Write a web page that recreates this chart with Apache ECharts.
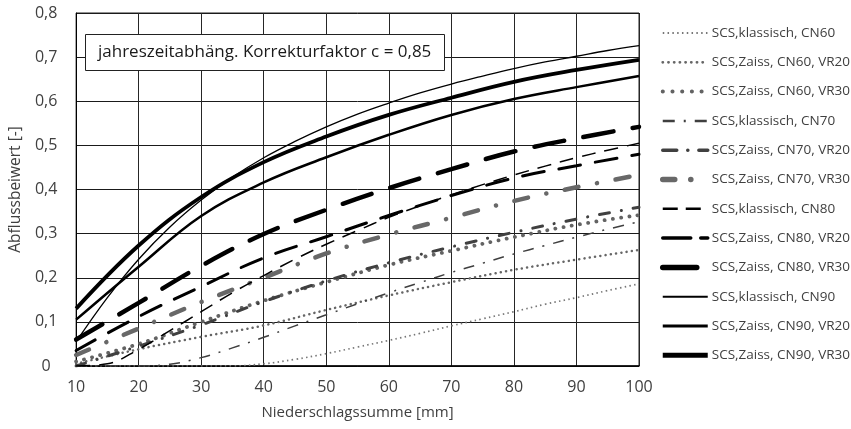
<!DOCTYPE html>
<html>
<head>
<meta charset="utf-8">
<script src="https://cdn.jsdelivr.net/npm/echarts@6/dist/echarts.min.js"></script>
<style>
  html, body { margin: 0; padding: 0; background: #fff; }
  #chart { width: 851px; height: 429px; }
</style>
</head>
<body>
<div id="chart"></div>
<script>
// Niederschlagssumme [mm] – Stützstellen
const xKlassisch = [10, 15, 20, 25, 30, 35, 40, 45, 50, 55, 60, 65, 70, 75, 80, 85, 90, 95, 100];
const xZaiss = [10, 20, 30, 40, 50, 60, 70, 80, 90, 100];

// Abflussbeiwerte, SCS klassisch
const cn60Klassisch = [0, 0, 0, 0, 0, 0.0002, 0.005, 0.015, 0.028, 0.043, 0.058, 0.074, 0.091, 0.107, 0.123, 0.140, 0.155, 0.171, 0.186];
const cn70Klassisch = [0, 0, 0, 0.004, 0.019, 0.041, 0.065, 0.091, 0.116, 0.141, 0.166, 0.189, 0.212, 0.233, 0.254, 0.273, 0.292, 0.310, 0.327];
const cn80Klassisch = [0, 0.005, 0.038, 0.080, 0.123, 0.166, 0.205, 0.242, 0.276, 0.307, 0.337, 0.363, 0.388, 0.411, 0.433, 0.453, 0.472, 0.489, 0.505];
const cn90Klassisch = [0.055, 0.155, 0.242, 0.315, 0.376, 0.428, 0.472, 0.509, 0.542, 0.571, 0.596, 0.619, 0.639, 0.657, 0.674, 0.689, 0.702, 0.715, 0.726];

// Abflussbeiwerte, SCS nach Zaiss
const cn60Vr20 = [0.005, 0.038, 0.066, 0.092, 0.127, 0.160, 0.190, 0.218, 0.241, 0.263];
const cn60Vr30 = [0.010, 0.050, 0.100, 0.148, 0.190, 0.229, 0.261, 0.292, 0.320, 0.342];
const cn70Vr20 = [0.000, 0.045, 0.093, 0.146, 0.193, 0.234, 0.270, 0.303, 0.333, 0.360];
const cn70Vr30 = [0.025, 0.085, 0.145, 0.200, 0.255, 0.298, 0.336, 0.374, 0.405, 0.433];
const cn80Vr20 = [0.035, 0.112, 0.180, 0.245, 0.293, 0.341, 0.386, 0.426, 0.454, 0.480];
const cn80Vr30 = [0.060, 0.143, 0.227, 0.299, 0.354, 0.403, 0.446, 0.486, 0.516, 0.542];
const cn90Vr20 = [0.105, 0.225, 0.340, 0.416, 0.473, 0.524, 0.569, 0.605, 0.632, 0.657];
const cn90Vr30 = [0.130, 0.273, 0.383, 0.462, 0.520, 0.569, 0.608, 0.644, 0.671, 0.694];

const seriesNames = [
  'SCS,klassisch, CN60', 'SCS,Zaiss, CN60, VR20', 'SCS,Zaiss, CN60, VR30',
  'SCS,klassisch, CN70', 'SCS,Zaiss, CN70, VR20', 'SCS,Zaiss, CN70, VR30',
  'SCS,klassisch, CN80', 'SCS,Zaiss, CN80, VR20', 'SCS,Zaiss, CN80, VR30',
  'SCS,klassisch, CN90', 'SCS,Zaiss, CN90, VR20', 'SCS,Zaiss, CN90, VR30'
];

const annotation = 'jahreszeitabhäng. Korrekturfaktor c = 0,85';

function pairs(xs, ys) { return xs.map((x, i) => [x, ys[i]]); }

// Linienstile je Kurve (Diagramm und Legende)
const styles = [
  { x: xKlassisch, y: cn60Klassisch, color: '#777777', width: 1.7, type: [1.5, 3.3], cap: 'butt',
    legend: { width: 1.8, type: [1.5, 3.3], cap: 'butt' } },
  { x: xZaiss, y: cn60Vr20, color: '#666666', width: 2.5, type: [0.1, 5.2], cap: 'round',
    legend: { width: 2.8, type: [0.1, 5.6], cap: 'round' } },
  { x: xZaiss, y: cn60Vr30, color: '#636363', width: 3.8, type: [0.1, 8.2], cap: 'round',
    legend: { width: 4, type: [0.1, 9.6], cap: 'round' } },
  { x: xKlassisch, y: cn70Klassisch, color: '#3f3f3f', width: 1.5, type: [11, 9, 2, 9], cap: 'butt',
    legend: { width: 2.5, type: [12, 9, 2, 9], cap: 'butt' } },
  { x: xZaiss, y: cn70Vr20, color: '#404040', width: 3, type: [10, 12, 0.1, 12], cap: 'round',
    legend: { width: 3.5, type: [14, 11, 0.1, 11], cap: 'round' } },
  { x: xZaiss, y: cn70Vr30, color: '#686868', width: 4.5, type: [14, 18.8, 0.1, 18.8], cap: 'round',
    legend: { width: 5.5, type: [12, 16, 0.1, 30], cap: 'round' } },
  { x: xKlassisch, y: cn80Klassisch, color: '#000000', width: 1.5, type: [14, 9], cap: 'butt',
    legend: { width: 2.4, type: [15, 8], cap: 'butt' } },
  { x: xZaiss, y: cn80Vr20, color: '#000000', width: 3, type: [22, 15], cap: 'round',
    legend: { width: 3.5, type: [28, 10], cap: 'round' } },
  { x: xZaiss, y: cn80Vr30, color: '#000000', width: 4.5, type: [30.5, 19.5], cap: 'round',
    legend: { width: 5.5, type: [34, 20], cap: 'round' } },
  { x: xKlassisch, y: cn90Klassisch, color: '#000000', width: 1.3, type: 'solid', cap: 'butt',
    legend: { width: 2, type: 'solid', cap: 'butt' } },
  { x: xZaiss, y: cn90Vr20, color: '#000000', width: 2.5, type: 'solid', cap: 'butt',
    legend: { width: 3.2, type: 'solid', cap: 'butt' } },
  { x: xZaiss, y: cn90Vr30, color: '#000000', width: 3.8, type: 'solid', cap: 'butt',
    legend: { width: 5, type: 'solid', cap: 'butt' } }
];

const series = styles.map((s, i) => ({
  name: seriesNames[i],
  type: 'line',
  data: pairs(s.x, s.y),
  showSymbol: false,
  symbol: 'none',
  smooth: 0.4,
  silent: true,
  color: s.color,
  lineStyle: { color: s.color, width: s.width, type: s.type, cap: s.cap }
}));

const legendData = styles.map((s, i) => ({
  name: seriesNames[i],
  lineStyle: { color: s.color, width: s.legend.width, type: s.legend.type, cap: s.legend.cap }
}));

const chart = echarts.init(document.getElementById('chart'), null, { renderer: 'canvas' });
const font = '"Open Sans", "Noto Sans", sans-serif';

chart.setOption({
  animation: false,
  backgroundColor: '#ffffff',
  textStyle: { fontFamily: font },
  title: {
    text: annotation,
    left: 85,
    top: 34,
    padding: [10, 13, 10, 13],
    backgroundColor: '#ffffff',
    borderColor: '#222222',
    borderWidth: 1,
    textStyle: { fontFamily: font, fontSize: 17, fontWeight: 'normal', color: '#1a1a1a' }
  },
  grid: { left: 75, right: 212, top: 13, bottom: 63, show: true, borderColor: '#222', borderWidth: 1 },
  legend: {
    orient: 'vertical',
    left: 655,
    top: 21,
    itemWidth: 45,
    itemHeight: 14,
    itemGap: 15.3,
    data: legendData,
    selectedMode: false,
    itemStyle: { opacity: 0 },
    textStyle: { fontFamily: font, fontSize: 13.5, color: '#404040', padding: [0, 0, 0, -1] }
  },
  xAxis: {
    type: 'value',
    min: 10,
    max: 100,
    interval: 10,
    name: 'Niederschlagssumme [mm]',
    nameLocation: 'middle',
    nameGap: 39,
    nameTextStyle: { fontFamily: font, fontSize: 15, color: '#404040' },
    axisLine: { show: true, lineStyle: { color: '#000', width: 1.5 } },
    axisTick: { show: false },
    axisLabel: { fontFamily: font, fontSize: 16, color: '#404040', margin: 13 },
    splitLine: { show: true, lineStyle: { color: '#262626', width: 1 } }
  },
  yAxis: {
    type: 'value',
    min: 0,
    max: 0.8,
    interval: 0.1,
    name: 'Abflussbeiwert [-]',
    nameLocation: 'middle',
    nameGap: 47,
    nameTextStyle: { fontFamily: font, fontSize: 15.5, color: '#404040' },
    axisLine: { show: true, lineStyle: { color: '#000', width: 1 } },
    axisTick: { show: false },
    axisLabel: {
      fontFamily: font, fontSize: 16, color: '#404040', margin: 30, align: 'center',
      formatter: v => (v === 0 ? '0' : v.toFixed(1).replace('.', ','))
    },
    splitLine: { show: true, lineStyle: { color: '#1a1a1a', width: 1 } }
  },
  series: series
});
</script>
</body>
</html>
